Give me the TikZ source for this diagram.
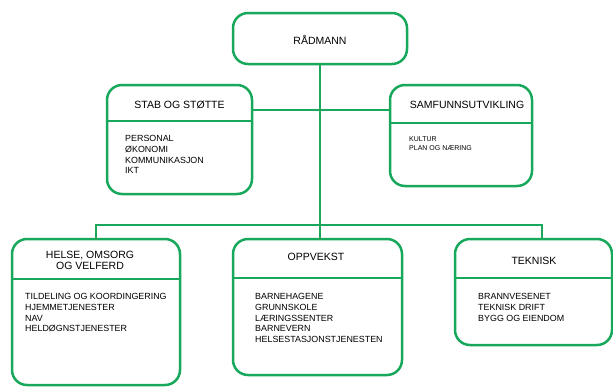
\documentclass[tikz,border=0pt]{standalone}
\usepackage{fontspec}
\setmainfont{Liberation Sans}
\definecolor{orggreen}{RGB}{24,168,92}
\begin{document}
\begin{tikzpicture}[x=1pt,y=-1pt,
  box/.style={draw=orggreen,line width=2.5pt,rounded corners=15pt,rectangle,inner sep=0pt,fill=white},
  conn/.style={draw=orggreen,line width=2.5pt},
  title/.style={font=\fontsize{10.5}{12}\selectfont,inner sep=0pt,align=center},
  items/.style={font=\fontsize{8.9}{10.8}\selectfont,inner sep=0pt,align=left,anchor=north west},
  smallitems/.style={font=\fontsize{7}{8.6}\selectfont,inner sep=0pt,align=left,anchor=north west}]
\useasboundingbox (0,0) rectangle (613,388);
\fill[white] (0,0) rectangle (613,388);

% boxes
\node[box,minimum width=174pt,minimum height=51pt] (rad) at (320,38.5) {};
\node[box,minimum width=145pt,minimum height=109pt] (stab) at (179.5,139.5) {};
\node[box,minimum width=142pt,minimum height=101pt] (samf) at (461,135.5) {};
\node[box,minimum width=168pt,minimum height=146pt] (helse) at (96,312) {};
\node[box,minimum width=169pt,minimum height=136pt] (opp) at (317.5,307) {};
\node[box,minimum width=157pt,minimum height=106pt] (tek) at (533.5,292) {};

% dividers
\draw[conn] (stab.west |- 0,121) -- (stab.east |- 0,121);
\draw[conn] (samf.west |- 0,123) -- (samf.east |- 0,123);
\draw[conn] (helse.west |- 0,279) -- (helse.east |- 0,279);
\draw[conn] (opp.west |- 0,278) -- (opp.east |- 0,278);
\draw[conn] (tek.west |- 0,278) -- (tek.east |- 0,278);

% connectors
\coordinate (busL) at (96,225);
\coordinate (busR) at (542,225);
\draw[conn] (stab.east |- 0,110) -- (samf.west |- 0,110);
\draw[conn] (rad.south -| 320,0) -- (opp.north -| 320,0);
\draw[conn] (helse.north) -- (busL) -- (busR) -- (busR |- tek.north);

% titles
\node[title] (radt) at (320,39.5) {RÅDMANN};
\node[title] (stabt) at (179.5,105) {STAB OG STØTTE};
\node[title] (samft) at (467,105) {SAMFUNNSUTVIKLING};
\node[title] (helset) at (90,260) {HELSE, OMSORG\\[-1.2pt]OG VELFERD};
\node[title] (oppt) at (316,257) {OPPVEKST};
\node[title] (tekt) at (534,261) {TEKNISK};

% items
\node[items] (stabi) at (125,135) {PERSONAL\\ØKONOMI\\KOMMUNIKASJON\\IKT};
\node[smallitems] (samfi) at (409,136.5) {KULTUR\\PLAN OG NÆRING};
\node[items] (helsei) at (25,293) {TILDELING OG KOORDINGERING\\HJEMMETJENESTER\\NAV\\HELDØGNSTJENESTER};
\node[items] (oppi) at (255,293) {BARNEHAGENE\\GRUNNSKOLE\\LÆRINGSSENTER\\BARNEVERN\\HELSESTASJONSTJENESTEN};
\node[items] (teki) at (478,293) {BRANNVESENET\\TEKNISK DRIFT\\BYGG OG EIENDOM};
\end{tikzpicture}
\end{document}
